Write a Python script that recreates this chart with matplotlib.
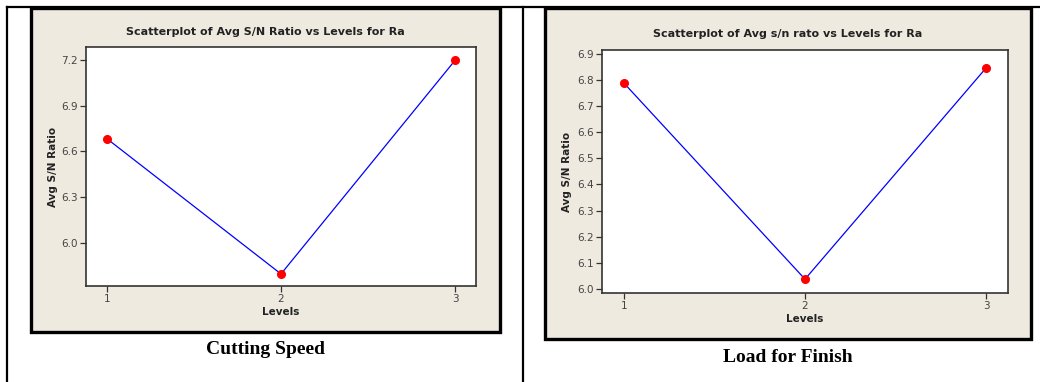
import numpy as np
import matplotlib.pyplot as plt
from matplotlib.patches import Rectangle

levels = [1, 2, 3]
speed_sn = [6.684, 5.797, 7.198]
load_sn = [6.789, 6.037, 6.847]

speed_yticks = [6.0, 6.3, 6.6, 6.9, 7.2]
load_yticks = [6.0, 6.1, 6.2, 6.3, 6.4, 6.5, 6.6, 6.7, 6.8, 6.9]

W, H = 1040, 382
BEIGE = '#eeeae0'
TXT = '#222222'


def px_rect(x0, y0, x1, y1):
    return [x0 / W, (H - y1) / H, (x1 - x0) / W, (y1 - y0) / H]


fig = plt.figure(figsize=(W / 100, H / 100), dpi=100)
bg = fig.add_axes([0, 0, 1, 1])
bg.set_xlim(0, W)
bg.set_ylim(H, 0)
bg.axis('off')

# table lines
bg.plot([7, 7], [7, H], color='black', lw=1.6)
bg.plot([523, 523], [7, H], color='black', lw=1.6)
bg.plot([7, W], [7, 7], color='black', lw=1.6)

# chart frames
bg.add_patch(Rectangle((31, 8), 469, 324, facecolor=BEIGE, edgecolor='black', lw=2.4))
bg.add_patch(Rectangle((545, 8), 486, 331, facecolor=BEIGE, edgecolor='black', lw=2.4))

# titles and captions
bg.text(265, 32, 'Scatterplot of Avg S/N Ratio vs Levels for Ra', ha='center', va='center',
        fontsize=8, fontweight='bold', color=TXT)
bg.text(788, 34, 'Scatterplot of Avg s/n rato vs Levels for Ra', ha='center', va='center',
        fontsize=8, fontweight='bold', color=TXT)
bg.text(265, 350, 'Cutting Speed', ha='center', va='center', family='Liberation Serif',
        fontsize=14, fontweight='bold', color='black')
bg.text(788, 357, 'Load for Finish', ha='center', va='center', family='Liberation Serif',
        fontsize=14, fontweight='bold', color='black')


def panel(rect, values, yticks, ylim, ylab_x, xlab_y, fmt):
    ax = fig.add_axes(px_rect(*rect))
    ax.plot(levels, values, color='#0000ff', lw=0.9, zorder=2)
    ax.plot(levels, values, 'o', color='#ff0000', ms=5.5, mec='#ff0000', zorder=3)
    ax.set_xlim(0.88, 3.12)
    ax.set_ylim(*ylim)
    ax.set_xticks(levels)
    ax.set_yticks(yticks)
    ax.set_yticklabels([fmt.format(t) for t in yticks])
    ax.tick_params(direction='out', length=4, width=0.9, color='#333333',
                   labelsize=7.5, labelcolor='#444444', pad=2)
    for s in ax.spines.values():
        s.set_color('#333333')
        s.set_linewidth(1.2)
    x0, y0, x1, y1 = rect
    bg.text(ylab_x, (y0 + y1) / 2, 'Avg S/N Ratio', rotation=90, ha='center', va='center',
            fontsize=7.5, fontweight='bold', color=TXT)
    bg.text((x0 + x1) / 2, xlab_y, 'Levels', ha='center', va='center',
            fontsize=7.5, fontweight='bold', color=TXT)
    return ax


panel((86, 47, 476, 286), speed_sn, speed_yticks, (5.718, 7.285), 53, 312, '{:.1f}')
panel((602, 50, 1008, 293), load_sn, load_yticks, (5.984, 6.915), 567, 319, '{:.1f}')

fig.savefig('out.png', dpi=100)
